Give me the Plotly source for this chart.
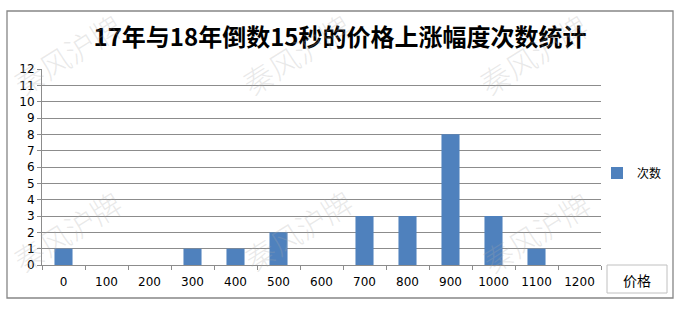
import plotly.graph_objects as go

# ---- data ----
categories = ["0", "100", "200", "300", "400", "500", "600",
              "700", "800", "900", "1000", "1100", "1200"]
counts = [1, 0, 0, 1, 1, 2, 0, 3, 3, 8, 3, 1, 0]
series_name = "次数"
title_text = "17年与18年倒数15秒的价格上涨幅度次数统计"
axis_title = "价格"
watermark = "秦风沪牌"
y_ticks = list(range(0, 13))

W, H = 685, 312
L, R, T, B = 42, 84, 69, 47
pw, ph = W - L - R, H - T - B


def px(x):
    return (x - L) / pw


def py(y):
    return (H - B - y) / ph


BAR = "#4F81BD"
GRID = "#8c8c8c"

fig = go.Figure()
fig.add_trace(go.Bar(x=categories, y=counts, name=series_name,
                     marker=dict(color=BAR, line=dict(width=0))))

annotations = []
# watermarks
for (cx, cy) in [(67, 54), (296, 54), (533, 54), (67, 231), (298, 230), (536, 232)]:
    annotations.append(dict(
        text=watermark, x=px(cx), y=py(cy), xref="paper", yref="paper",
        xanchor="center", yanchor="middle", showarrow=False, textangle=-32,
        font=dict(family="Noto Sans CJK SC", size=30, color="rgba(170,170,170,0.26)", weight=300)))

# axis title box text
annotations.append(dict(
    text=axis_title, x=px(637), y=py(280), xref="paper", yref="paper",
    xanchor="center", yanchor="middle", showarrow=False,
    font=dict(family="Noto Sans CJK SC", size=14, color="#000000")))

shapes = [
    dict(type="rect", xref="paper", yref="paper",
         x0=px(7), x1=px(673), y0=py(298), y1=py(11),
         line=dict(color="#868686", width=1.3), layer="below"),
    dict(type="rect", xref="paper", yref="paper",
         x0=px(607), x1=px(667), y0=py(265), y1=py(293),
         line=dict(color="#c0c0c0", width=1)),
]

fig.update_layout(
    width=W, height=H,
    margin=dict(l=L, r=R, t=T, b=B),
    paper_bgcolor="white", plot_bgcolor="white",
    bargap=0.58,
    title=dict(text=title_text, x=340 / W, xref="container", xanchor="center",
               y=1 - 38 / H, yref="container", yanchor="middle",
               font=dict(family="Noto Sans CJK SC", size=24, color="#000000", weight="bold")),
    xaxis=dict(type="category", categoryorder="array", categoryarray=categories,
               tickson="boundaries", ticks="outside", ticklen=4, tickcolor=GRID,
               showline=True, linecolor=GRID, linewidth=1, showgrid=False,
               ticklabelstandoff=6,
               tickfont=dict(family="DejaVu Sans", size=12, color="#000000")),
    yaxis=dict(range=[0, 12], tickvals=y_ticks, ticks="outside", ticklen=4,
               tickcolor=GRID, showline=True, linecolor=GRID, linewidth=1,
               showgrid=True, gridcolor=GRID, gridwidth=1, zeroline=False,
               tickfont=dict(family="DejaVu Sans", size=12, color="#000000")),
    showlegend=True,
    legend=dict(x=px(597), y=py(173), xanchor="left", yanchor="middle",
                bgcolor="rgba(0,0,0,0)", borderwidth=0,
                font=dict(family="Noto Sans CJK SC", size=12, color="#000000")),
    annotations=annotations,
    shapes=shapes,
)

fig.write_html("out.html")
